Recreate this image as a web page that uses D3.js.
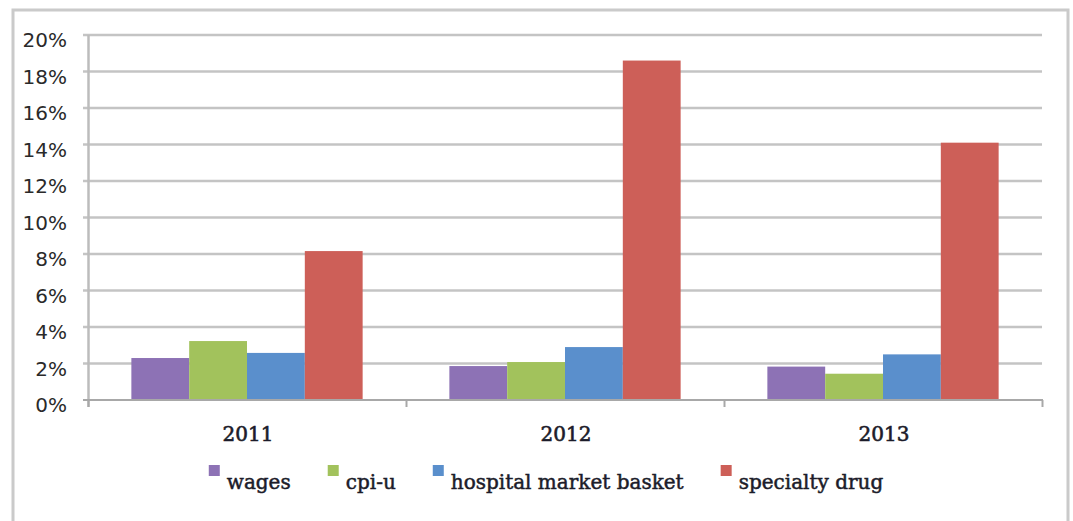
<!DOCTYPE html>
<html>
<head>
<meta charset="utf-8">
<script src="https://cdn.jsdelivr.net/npm/d3@7"></script>
<style>
  html, body { margin:0; padding:0; background:#fff; }
  svg { display:block; }
</style>
</head>
<body>
<svg id="chart" width="1073" height="521"></svg>
<script>
/* ---------- data ---------------------------------------- */
const years  = ['2011','2012','2013'];
const series = ['wages','cpi-u','hospital market basket','specialty drug'];
const wages     = [0.023, 0.0186, 0.0183];
const cpiU      = [0.0323, 0.0208, 0.0144];
const hospital  = [0.0258, 0.029, 0.025];
const specialty = [0.0816, 0.186, 0.141];
const yTicks    = [0,0.02,0.04,0.06,0.08,0.10,0.12,0.14,0.16,0.18,0.20];

const colours = ['#8d72b5','#a2c25c','#5a8fcc','#cd5f58'];
const values  = [wages, cpiU, hospital, specialty];

/* ---------- svg & scales -------------------------------- */
const svg = d3.select('#chart');
const W = 1073, H = 521;

// outer chart frame (no bottom edge visible in the picture)
svg.append('path')
  .attr('d', `M13,${H} L13,10 L1068,10 L1068,${H}`)
  .attr('fill','none').attr('stroke','#cacaca').attr('stroke-width',3);

const x0 = d3.scaleBand().domain(years).range([88,1042]).paddingInner(0).paddingOuter(0);
const x1 = d3.scaleBand().domain(series).range([0,x0.bandwidth()])
             .paddingInner(0).paddingOuter(0.75);
const y  = d3.scaleLinear().domain([0,0.2]).range([400,35]);

/* gridlines */
svg.append('g').selectAll('line')
  .data(yTicks.filter(d=>d>0))
  .enter().append('line')
    .attr('x1',83).attr('x2',1042)
    .attr('y1',d=>y(d)).attr('y2',d=>y(d))
    .attr('stroke','#c4c4c4').attr('stroke-width',2.5);

/* y axis line + labels */
svg.append('line')
  .attr('x1',88.5).attr('x2',88.5).attr('y1',y(0.2)).attr('y2',407)
  .attr('stroke','#bcbcbc').attr('stroke-width',2.5);

svg.append('g').selectAll('text')
  .data(yTicks)
  .enter().append('text')
    .attr('x',67).attr('y',d=>y(d)+12)
    .attr('text-anchor','end')
    .style('font-family','"DejaVu Sans", Verdana, sans-serif')
    .style('font-size','20px')
    .style('fill','#2a2a2a')
    .text(d=>d3.format('.0%')(d));

/* bars */
const groups = svg.append('g').selectAll('g')
  .data(years)
  .enter().append('g')
    .attr('transform',d=>`translate(${x0(d)},0)`);

groups.selectAll('rect')
  .data((yr,i)=>series.map((s,j)=>({s, c:colours[j], v:values[j][i]})))
  .enter().append('rect')
    .attr('x',d=>x1(d.s))
    .attr('width',x1.bandwidth())
    .attr('y',d=>y(d.v))
    .attr('height',d=>y(0)-y(d.v))
    .attr('fill',d=>d.c);

/* x axis line + ticks */
svg.append('line')
  .attr('x1',83).attr('x2',1043).attr('y1',400).attr('y2',400)
  .attr('stroke','#a8a8a8').attr('stroke-width',2);
svg.append('g').selectAll('line')
  .data([...years.map(d=>x0(d)), 1042])
  .enter().append('line')
    .attr('x1',d=>d+0.5).attr('x2',d=>d+0.5).attr('y1',400).attr('y2',407)
    .attr('stroke','#a8a8a8').attr('stroke-width',2);

svg.append('g').selectAll('text')
  .data(years)
  .enter().append('text')
    .attr('x',d=>x0(d)+x0.bandwidth()/2+1)
    .attr('y',441)
    .attr('text-anchor','middle')
    .style('font-family','"DejaVu Serif", Georgia, serif')
    .style('font-size','20px')
    .style('fill','#1c1c2a')
    .style('stroke','#1c1c2a').style('stroke-width',0.6)
    .text(d=>d);

/* legend */
const LG = svg.append('g');
const items = LG.selectAll('g')
  .data(series)
  .enter().append('g');
items.append('rect')
  .attr('width',11).attr('height',11)
  .attr('y',465)
  .attr('fill',(d,i)=>colours[i]);
items.append('text')
  .attr('x',18).attr('y',489)
  .style('font-family','"DejaVu Serif", Georgia, serif')
  .style('font-size','20px')
  .style('fill','#1c1c2a')
  .style('stroke','#1c1c2a').style('stroke-width',0.5)
  .text(d=>d);

let cx = 0;
const pos = [];
items.each(function(){
  const w = d3.select(this).select('text').node().getComputedTextLength();
  pos.push(cx);
  cx += 18 + w + 37;
});
const total = cx - 37;
const start = 546 - total/2;
items.attr('transform',(d,i)=>`translate(${start+pos[i]},0)`);
</script>
</body>
</html>
